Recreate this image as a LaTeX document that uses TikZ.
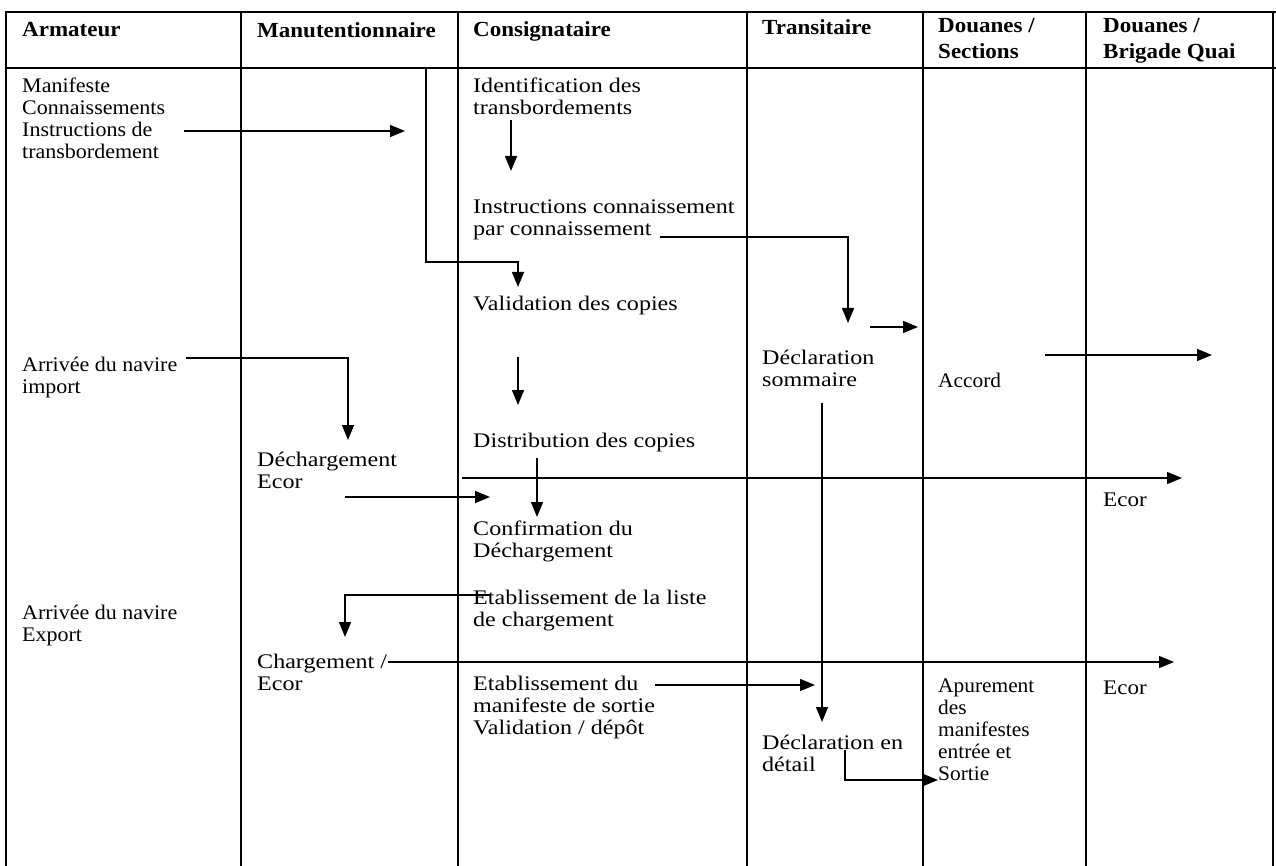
\documentclass[tikz,border=0pt]{standalone}
\usepackage{fontspec}
\setmainfont{Liberation Serif}
\newfontfamily\fHd[FakeStretch=1.07]{Liberation Serif}
\newfontfamily\fColA[FakeStretch=1.06]{Liberation Serif}
\newfontfamily\fColB[FakeStretch=1.16]{Liberation Serif}
\newfontfamily\fColC[FakeStretch=1.03]{Liberation Serif}
\newfontfamily\fColD[FakeStretch=1.11]{Liberation Serif}
\usetikzlibrary{arrows.meta}
\begin{document}
\begin{tikzpicture}[x=1pt,y=-1pt,
  grid/.style={line width=1.1pt,line cap=rect},
  hd/.style={anchor=north west,inner sep=0pt,align=left,font=\fHd\bfseries\fontsize{21.5}{26}\selectfont},
  txA/.style={anchor=north west,inner sep=0pt,align=left,font=\fColA\fontsize{20.75}{22}\selectfont},
  txB/.style={anchor=north west,inner sep=0pt,align=left,font=\fColB\fontsize{20.75}{22}\selectfont},
  txC/.style={anchor=north west,inner sep=0pt,align=left,font=\fColC\fontsize{20.75}{22}\selectfont},
  txD/.style={anchor=north west,inner sep=0pt,align=left,font=\fColD\fontsize{20.75}{22}\selectfont},
  arr/.style={line width=1.5pt,-{Triangle[length=15pt,width=12pt]}}]
\useasboundingbox (0,0) rectangle (1276,866);
% table
\draw[grid] (6,12) -- (1276,12);
\draw[grid] (6,68) -- (1276,68);
\foreach \x in {6,241,458,747,923,1086,1273} \draw[grid] (\x,12) -- (\x,866);
% headers
\node[hd] (hA) at (22,22.5) {Armateur};
\node[hd] (hM) at (257,22.5) {Manutentionnaire};
\node[hd] (hC) at (473,21.5) {Consignataire};
\node[hd] (hT) at (762,19.5) {Transitaire};
\node[hd] (hD) at (938,18.5) {Douanes /\\Sections};
\node[hd] (hB) at (1103,18.5) {Douanes /\\Brigade Quai};
% body texts
\node[txA] (A1) at (22,77.5) {Manifeste\\Connaissements\\Instructions de\\transbordement};
\node[txB] (C1) at (473,77.5) {Identification des\\transbordements};
\node[txB] (C2) at (473,199.5) {Instructions connaissement\\par connaissement};
\node[txB] (C3) at (473,295.5) {Validation des copies};
\node[txA] (A2) at (22,356.5) {Arrivée du navire\\import};
\node[txB] (T1) at (762,349.5) {Déclaration\\sommaire};
\node[txC] (D1) at (938,372.5) {Accord};
\node[txB] (C4) at (473,432.5) {Distribution des copies};
\node[txB] (M1) at (257,451.5) {Déchargement\\Ecor};
\node[txD] (B1) at (1103,492.5) {Ecor};
\node[txB] (C5) at (473,520.5) {Confirmation du\\Déchargement};
\node[txB] (C6) at (473,589.5) {Etablissement de la liste\\de chargement};
\node[txA] (A3) at (22,604.5) {Arrivée du navire\\Export};
\node[txB] (M2) at (257,653.5) {Chargement /\\Ecor};
\node[txB] (C7) at (473,675.5) {Etablissement du\\manifeste de sortie\\Validation / dépôt};
\node[txC] (D2) at (938,678.5) {Apurement\\des\\manifestes\\entrée et\\Sortie};
\node[txD] (B2) at (1103,680.5) {Ecor};
\node[txB] (T2) at (762,734.5) {Déclaration en\\détail};
% connector points
\coordinate (p1a) at (184,131); \coordinate (p1b) at (405,131);
\coordinate (p2a) at (426,68); \coordinate (p2b) at (426,262); \coordinate (p2c) at (518,262); \coordinate (p2d) at (518,287);
\coordinate (p3a) at (511,120); \coordinate (p3b) at (511,171);
\coordinate (p4a) at (660,237); \coordinate (p4b) at (848,237); \coordinate (p4c) at (848,323);
\coordinate (p5a) at (870,327); \coordinate (p5b) at (918,327);
\coordinate (p6a) at (518,357); \coordinate (p6b) at (518,405);
\coordinate (p7a) at (186,358); \coordinate (p7b) at (348,358); \coordinate (p7c) at (348,440);
\coordinate (p8a) at (1045,355); \coordinate (p8b) at (1212,355);
\coordinate (p9a) at (462,478); \coordinate (p9b) at (1182,478);
\coordinate (p10a) at (537,458); \coordinate (p10b) at (537,517);
\coordinate (p11a) at (345,497); \coordinate (p11b) at (490,497);
\coordinate (p12a) at (822,403); \coordinate (p12b) at (822,722);
\coordinate (p13a) at (490,595); \coordinate (p13b) at (345,595); \coordinate (p13c) at (345,637);
\coordinate (p14a) at (388,662); \coordinate (p14b) at (1174,662);
\coordinate (p15a) at (655,685); \coordinate (p15b) at (815,685);
\coordinate (p16a) at (845,750); \coordinate (p16b) at (845,780); \coordinate (p16c) at (938,780);
% connectors
\draw[arr] (p1a) -- (p1b);
\draw[arr] (p2a) -- (p2b) -- (p2c) -- (p2d);
\draw[arr] (p3a) -- (p3b);
\draw[arr] (p4a) -- (p4b) -- (p4c);
\draw[arr] (p5a) -- (p5b);
\draw[arr] (p6a) -- (p6b);
\draw[arr] (p7a) -- (p7b) -- (p7c);
\draw[arr] (p8a) -- (p8b);
\draw[arr] (p9a) -- (p9b);
\draw[arr] (p10a) -- (p10b);
\draw[arr] (p11a) -- (p11b);
\draw[arr] (p12a) -- (p12b);
\draw[arr] (p13a) -- (p13b) -- (p13c);
\draw[arr] (p14a) -- (p14b);
\draw[arr] (p15a) -- (p15b);
\draw[arr] (p16a) -- (p16b) -- (p16c);
\end{tikzpicture}
\end{document}
